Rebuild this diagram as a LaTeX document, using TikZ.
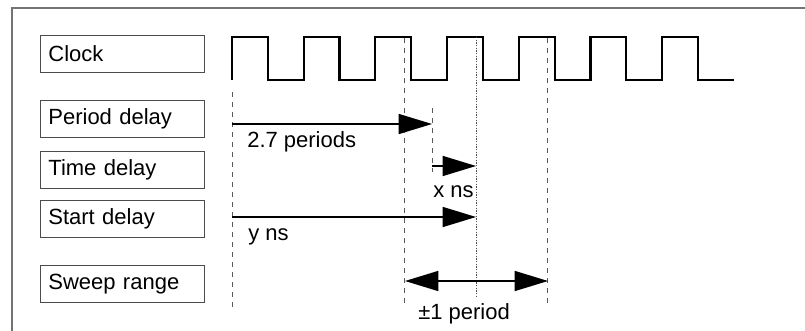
\documentclass[tikz,border=0pt]{standalone}
\usepackage{fontspec}
\setmainfont{Liberation Sans}
\usetikzlibrary{arrows.meta,positioning}

\tikzset{
  lbl/.style={draw=black!70, line width=0.6pt, anchor=north west,
    text width=111pt, inner xsep=6pt, minimum height=27.5pt,
    font=\fontsize{16.5}{19}\selectfont},
  tag/.style={anchor=base west, inner sep=0pt, font=\fontsize{16.5}{19}\selectfont},
  clk/.style={line width=1.6pt, line join=miter},
  guide/.style={black!65, line width=0.7pt, dash pattern=on 4pt off 3.5pt},
  bigtip/.tip={Triangle[length=25pt,width=15pt]},
  delay/.style={line width=1.1pt, -bigtip},
  sweep/.style={line width=1.1pt, bigtip-bigtip},
}

\begin{document}
\begin{tikzpicture}[x=0.75pt, y=-0.75pt]
  \useasboundingbox (0,0) rectangle (805,331);

  % Frame (top and left edge only)
  \draw[black!55, line width=1pt] (12,331) -- (12,8) -- (805,8);

  % Row labels
  \node[lbl] (clockbox) at (40,35) {Clock};
  \node[lbl] (perbox) at (40,100) {Period delay};
  \node[lbl] (timebox) at (40,151) {Time delay};
  \node[lbl] (startbox) at (40,200) {Start delay};
  \node[lbl] (sweepbox) at (40,265) {Sweep range};

  % The clock
  \draw[clk] (232,80) \foreach \k in {1,...,7} {
    -- ++(0,-43) -- ++(35.85,0) -- ++(0,43) -- ++(35.85,0) };

  % Guide lines
  \draw[guide] (232,92) -- (232,310);
  \draw[guide] (404,38) -- (404,307);
  \draw[guide] (547,38) -- (547,307);
  \draw[guide] (432,108) -- (432,172);
  \draw[black!70, line width=0.5pt, dash pattern=on 1pt off 1pt] (476,37) -- (476,296);

  % Delays
  \coordinate (p0) at (232,124);
  \coordinate (p1) at (432,124);
  \coordinate (x0) at (432,166);
  \coordinate (x1) at (476,166);
  \coordinate (y0) at (232,217);
  \coordinate (y1) at (476,217);
  \coordinate (s0) at (405,281);
  \coordinate (s1) at (548,281);

  \draw[delay] (p0) -- (p1);
  \draw[delay] (x0) -- (x1);
  \draw[delay] (y0) -- (y1);
  \draw[sweep] (s0) -- (s1);

  \node[tag] (pertag) at (247,148) {2.7 periods};
  \node[tag] (xtag) at (433,198) {x ns};
  \node[tag] (ytag) at (248,240) {y ns};
  \node[tag] (sweeptag) at (418,319) {±1 period};
\end{tikzpicture}
\end{document}
